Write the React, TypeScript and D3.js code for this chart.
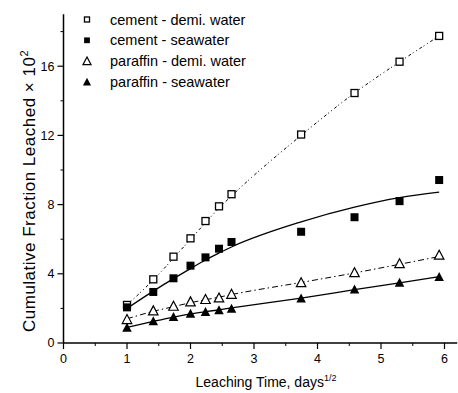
import React from "react";
import * as d3 from "d3";

const xVals = [1, 1.414, 1.732, 2, 2.236, 2.449, 2.646, 3.742, 4.583, 5.292, 5.916];
const cementDemi = [2.2, 3.68, 4.99, 6.05, 7.05, 7.9, 8.6, 12.05, 14.45, 16.26, 17.75];
const cementSea = [2.06, 2.95, 3.74, 4.47, 4.95, 5.45, 5.84, 6.43, 7.27, 8.2, 9.42];
const paraffinDemi = [1.37, 1.87, 2.14, 2.39, 2.53, 2.62, 2.83, 3.5, 4.08, 4.6, 5.09];
const paraffinSea = [0.89, 1.27, 1.52, 1.71, 1.81, 1.91, 2.0, 2.58, 3.1, 3.49, 3.83];

const fitCementDemi = [2.2, 3.65, 4.9, 6.0, 6.95, 7.8, 8.5, 12.0, 14.45, 16.25, 17.75];
const fitCementSea = [2.0, 3.0, 3.72, 4.3, 4.8, 5.2, 5.55, 7.0, 7.85, 8.4, 8.72];
const fitParaffinDemi = [1.4, 1.83, 2.1, 2.33, 2.5, 2.65, 2.8, 3.5, 4.05, 4.55, 5.0];
const fitParaffinSea = [0.9, 1.25, 1.5, 1.68, 1.81, 1.92, 2.03, 2.6, 3.08, 3.48, 3.83];

const legendLabels = ["cement - demi. water", "cement - seawater", "paraffin - demi. water", "paraffin - seawater"];
const xTicks = [0, 1, 2, 3, 4, 5, 6];
const yTicks = [0, 4, 8, 12, 16];

const FONT = "'Liberation Sans', Arial, sans-serif";

function Marker({ kind, x, y, small }: { kind: string; x: number; y: number; small?: boolean }) {
  const k = small ? 0.72 : 1;
  const s = 7 * k;
  if (kind === "sqOpen")
    return <rect x={x - s / 2} y={y - s / 2} width={s} height={s} fill="white" stroke="black" strokeWidth={1.3} />;
  if (kind === "sqFill")
    return <rect x={x - 4 * k} y={y - 4 * k} width={8 * k} height={8 * k} fill="black" />;
  const h = 8.5 * (small ? 0.85 : 1);
  const w = 9.5 * (small ? 0.85 : 1);
  const pts = `${x},${y - h / 2 - 0.5} ${x - w / 2},${y + h / 2} ${x + w / 2},${y + h / 2}`;
  if (kind === "triOpen") return <polygon points={pts} fill="white" stroke="black" strokeWidth={1.2} />;
  return <polygon points={pts} fill="black" />;
}

export default function App() {
  const W = 458, H = 393;
  const x = d3.scaleLinear().domain([0, 6.2]).range([63.5, 457.2]);
  const y = d3.scaleLinear().domain([0, 19]).range([343, 14.3]);

  const series = [
    { data: cementDemi, fit: fitCementDemi, kind: "sqOpen", dash: "3 2 1 3 1 3", sw: 1 },
    { data: cementSea, fit: fitCementSea, kind: "sqFill", dash: "", sw: 1.3 },
    { data: paraffinDemi, fit: fitParaffinDemi, kind: "triOpen", dash: "6 3 1.5 3", sw: 1 },
    { data: paraffinSea, fit: fitParaffinSea, kind: "triFill", dash: "", sw: 1.3 },
  ];

  const line = d3
    .line<number>()
    .x((_, i) => x(xVals[i]))
    .y((d) => y(d))
    .curve(d3.curveMonotoneX);

  const xMinor = d3.range(0.5, 6.2, 1);
  const yMinor = d3.range(2, 19, 4);

  return (
    <svg width={W} height={H} style={{ display: "block", position: "absolute", left: 0, top: 0, background: "white" }}>
      <rect width={W} height={H} fill="white" />
      {series.map((s, i) => (
        <path key={"f" + i} d={line(s.fit) || ""} fill="none" stroke="black" strokeWidth={s.sw} strokeDasharray={s.dash || undefined} />
      ))}
      {series.map((s, i) =>
        s.data.map((v, j) => <Marker key={`m${i}-${j}`} kind={s.kind} x={x(xVals[j])} y={y(v)} />)
      )}
      <line x1={x(0)} x2={x(0)} y1={y(0)} y2={y(19)} stroke="black" strokeWidth={1.5} />
      <line x1={x(0)} x2={x(6.2)} y1={y(0)} y2={y(0)} stroke="black" strokeWidth={1.5} />
      {yTicks.map((t) => (
        <g key={"yt" + t}>
          <line x1={x(0) - 6} x2={x(0)} y1={y(t)} y2={y(t)} stroke="black" strokeWidth={1.2} />
          <text x={x(0) - 9} y={y(t)} dy="0.35em" textAnchor="end" fontFamily={FONT} fontSize={12.5}>
            {t}
          </text>
        </g>
      ))}
      {yMinor.map((t) => (
        <line key={"ym" + t} x1={x(0) - 3} x2={x(0)} y1={y(t)} y2={y(t)} stroke="black" strokeWidth={1} />
      ))}
      {xTicks.map((t) => (
        <g key={"xt" + t}>
          <line x1={x(t)} x2={x(t)} y1={y(0)} y2={y(0) + 6} stroke="black" strokeWidth={1.2} />
          <text x={x(t)} y={y(0) + 20} textAnchor="middle" fontFamily={FONT} fontSize={12.5}>
            {t}
          </text>
        </g>
      ))}
      {xMinor.map((t) => (
        <line key={"xm" + t} x1={x(t)} x2={x(t)} y1={y(0)} y2={y(0) + 3} stroke="black" strokeWidth={1} />
      ))}
      <text x={266} y={387} textAnchor="middle" fontFamily={FONT} fontSize={14}>
        Leaching Time, days
        <tspan dy={-6} fontSize={9}>1/2</tspan>
      </text>
      <text
        transform={`translate(35,191) rotate(-90)`}
        textAnchor="middle"
        fontFamily={FONT}
        fontSize={17}
        letterSpacing={0.5}
      >
        Cumulative Fraction Leached × 10
        <tspan dy={-7} fontSize={11}>2</tspan>
      </text>
      {legendLabels.map((l, i) => {
        const ly = 19.5 + i * 20.8;
        const kinds = ["sqOpen", "sqFill", "triOpen", "triFill"];
        return (
          <g key={"lg" + i}>
            <Marker kind={kinds[i]} x={87} y={ly} small />
            <text x={110} y={ly} dy="0.35em" fontFamily={FONT} fontSize={14.5}>
              {l}
            </text>
          </g>
        );
      })}
    </svg>
  );
}
